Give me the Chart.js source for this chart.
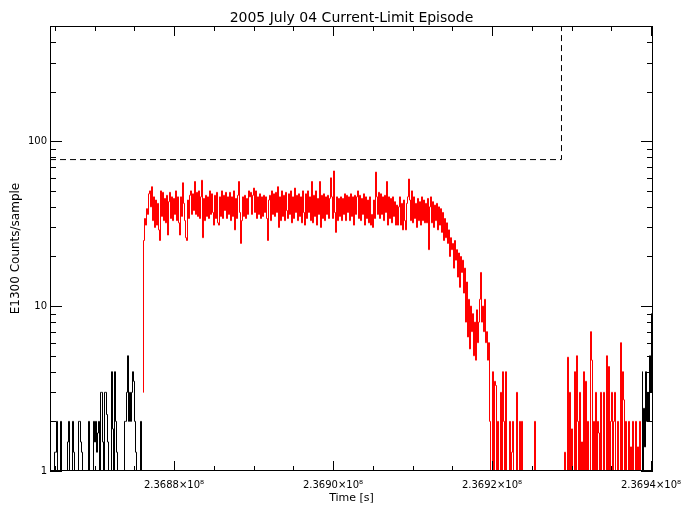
<!DOCTYPE html>
<html>
<head>
<meta charset="utf-8">
<script src="https://cdn.jsdelivr.net/npm/chart.js@4.4.1/dist/chart.umd.min.js"></script>
<style>
  body { margin: 0; background: #fff; }
  canvas { display: block; }
</style>
</head>
<body>
<canvas id="myChart" width="690" height="511"></canvas>
<script>
// sampling of the E1300 counts
const startTime = 2.368644e8;
const sampleStep = 125.79; // seconds per sample
const timeMin = 2.368644e8;
const timeMax = 2.3694025e8;

// black: before the episode (samples 0..92)
const countsBefore = [
    1, 1, 1, 1, 1, 1.3, 1.3, 2, 1, 1,
    1, 2, 1, 1, 1, 1, 1, 1, 1.5, 2,
    1, 1, 1, 2, 1.3, 1, 1, 1, 1, 2,
    2, 1.5, 1.3, 1, 1, 1, 1, 1, 1, 2,
    1, 1, 1, 1, 2, 1.5, 2, 1.3, 1.7, 2,
    1, 3, 3, 1.5, 1, 3, 3, 2.2, 1.5, 1,
    1, 1, 4, 1.8, 1, 4, 2, 1.3, 1, 1,
    1, 1, 1, 1, 1, 2, 2, 3, 5, 2,
    3, 2, 3, 4, 3.5, 2, 1.3, 1, 1, 1,
    1, 2, 1
];

// red: during the current-limit episode (samples 93..591)
const countsEpisode = [
    3, 25, 34, 31, 39, 36, 48,
    50, 40, 53, 33, 46, 30, 44, 31, 42, 29,
    25, 50, 35, 49, 33, 45, 32, 47, 27, 43,
    49, 34, 46, 33, 45, 36, 50, 33, 46, 32,
    27, 46, 35, 56, 42, 33, 26, 25, 44, 34,
    47, 50, 36, 48, 38, 57, 36, 49, 35, 50,
    34, 46, 58, 26, 45, 33, 47, 35, 46, 34,
    50, 36, 48, 37, 31, 47, 34, 49, 32, 31,
    46, 35, 50, 34, 47, 38, 49, 34, 46, 36,
    49, 33, 46, 35, 50, 29, 45, 34, 47, 57,
    37, 24, 33, 46, 35, 47, 34, 45, 36, 50,
    46, 49, 36, 47, 52, 37, 50, 34, 46, 36,
    48, 34, 46, 35, 47, 37, 46, 34, 25, 44,
    47, 33, 50, 36, 48, 35, 49, 37, 53, 30,
    46, 33, 50, 35, 47, 33, 49, 38, 34, 48,
    36, 50, 32, 46, 34, 52, 37, 47, 33, 48,
    35, 46, 32, 50, 37, 31, 48, 34, 50, 37,
    46, 33, 57, 32, 47, 35, 50, 31, 45, 36,
    57, 30, 47, 34, 48, 33, 46, 36, 47, 34,
    45, 60, 46, 34, 66, 37, 28, 46, 33, 45,
    35, 46, 33, 45, 36, 48, 33, 47, 37, 46,
    33, 48, 35, 46, 31, 47, 36, 46, 50, 34,
    47, 33, 45, 36, 48, 31, 46, 34, 44, 32,
    46, 31, 36, 30, 44, 34, 65, 46, 36, 49,
    34, 48, 36, 46, 33, 47, 37, 57, 31, 46,
    34, 45, 32, 46, 35, 43, 31, 41, 31, 40,
    46, 31, 42, 29, 44, 33, 29, 42, 46, 59,
    44, 33, 50, 32, 46, 34, 42, 30, 45, 33,
    43, 31, 46, 33, 44, 32, 42, 32, 45, 22,
    40, 46, 32, 43, 30, 41, 33, 42, 29, 40,
    31, 39, 28, 37, 25, 34, 26, 32, 24, 29,
    20, 26, 22, 24, 17, 25, 19, 22, 15, 21,
    13, 20, 16, 19, 12, 17, 8, 14, 6.5, 11,
    5.5, 10, 7, 9, 5, 8, 4.7, 9.5, 6, 8,
    11, 16, 8, 10, 7, 11, 6, 7, 4.7, 6,
    2, 1, 1, 4, 1, 3.5, 3.3, 1, 2, 1,
    1, 3, 1, 4, 2, 1, 4, 1, 1, 1,
    2, 1, 1.3, 2, 1, 1, 1, 3, 1, 1,
    2, 1, 2, 1, 1, 1, 1, 1, 1, 1,
    1, 1, 1, 1, 1, 2, 1, 1, 1, 1,
    1, 1, 1, 1, 1, 1, 1, 1, 1, 1,
    1, 1, 1, 1, 1, 1, 1, 1, 1, 1,
    1, 1, 1, 1, 1, 1.3, 1, 1, 4.9, 1,
    3, 1, 1.8, 1, 1, 4, 1, 5, 2, 1,
    3, 1, 1.5, 1, 4, 1, 3.5, 1, 2, 1,
    1, 7, 4.7, 1, 2, 1, 3, 1, 2, 1.7,
    1, 3, 1, 1, 3, 1, 1, 5, 1, 4.3,
    1, 2, 3, 1, 2, 3, 1, 1, 2, 1,
    1, 6, 1, 4, 2.7, 1, 2, 1, 1, 2,
    1, 1.4, 1, 2, 1, 1, 2, 1, 1.4, 1,
    2, 1
];

// black: after the episode (samples 592..606)
const countsAfter = [4, 1, 2.4, 1.4, 4, 2, 3, 2, 5, 3, 9, 5, 10, 5, 2.6];

// dashed current-limit level
const limitLevel = 77.4;
const limitEndTime = 2.3692874e8;
const limitTop = 1000;

// ticks
const xMajorTicks = [2.3688e8, 2.3690e8, 2.3692e8, 2.3694e8];
const xMinorTicks = [2.36865e8, 2.36870e8, 2.36875e8, 2.36885e8, 2.36890e8, 2.36895e8,
    2.36905e8, 2.36910e8, 2.36915e8, 2.36925e8, 2.36930e8, 2.36935e8];
const yMajorTicks = [1, 10, 100];
const yMinorTicks = [2, 3, 4, 5, 6, 7, 8, 9, 20, 30, 40, 50, 60, 70, 80, 90, 200, 300, 400];


function toPoints(counts, firstIndex) {
    return counts.map((c, i) => ({ x: startTime + (firstIndex + i) * sampleStep, y: c }));
}

const beforePts = toPoints(countsBefore, 0);
const episodePts = toPoints(countsEpisode, countsBefore.length);
const afterPts = toPoints(countsAfter, countsBefore.length + countsEpisode.length);
const limitPts = [
    { x: timeMin, y: limitLevel },
    { x: limitEndTime, y: limitLevel },
    { x: limitEndTime, y: limitTop }
];

// IDL style frame with inward ticks on all four sides
const idlAxes = {
    id: 'idlAxes',
    afterDatasetsDraw(chart) {
        const { ctx, chartArea: a, scales: { x, y } } = chart;
        ctx.save();
        ctx.strokeStyle = '#000';
        ctx.lineWidth = 1;
        ctx.beginPath();
        const xTick = (v, len) => {
            const px = Math.round(x.getPixelForValue(v)) + 0.5;
            ctx.moveTo(px, a.bottom);
            ctx.lineTo(px, a.bottom - len);
            ctx.moveTo(px, a.top);
            ctx.lineTo(px, a.top + len);
        };
        const yTick = (v, len) => {
            const py = Math.round(y.getPixelForValue(v)) + 0.5;
            ctx.moveTo(a.left, py);
            ctx.lineTo(a.left + len, py);
            ctx.moveTo(a.right, py);
            ctx.lineTo(a.right - len, py);
        };
        xMajorTicks.forEach(v => xTick(v, 10));
        xMinorTicks.forEach(v => xTick(v, 5));
        yMajorTicks.forEach(v => yTick(v, 12));
        yMinorTicks.forEach(v => yTick(v, 6));
        ctx.stroke();
        ctx.strokeRect(a.left + 0.5, a.top + 0.5, a.width - 1, a.height - 1);
        ctx.restore();
    }
};

const font = 'DejaVu Sans';
Chart.defaults.color = '#000';
Chart.defaults.font.family = font;

const lineStyle = { borderWidth: 1, pointRadius: 0, fill: false, stepped: 'middle', tension: 0 };

var ctx = document.getElementById('myChart').getContext('2d');
var chart = new Chart(ctx, {
    type: 'line',
    data: {
        datasets: [
            Object.assign({ label: 'before', data: beforePts, borderColor: '#000000' }, lineStyle),
            Object.assign({ label: 'episode', data: episodePts, borderColor: '#ff0000' }, lineStyle),
            Object.assign({ label: 'after', data: afterPts, borderColor: '#000000' }, lineStyle),
            {
                label: 'limit', data: limitPts, borderColor: '#000000', borderWidth: 1,
                borderDash: [6, 4], pointRadius: 0, fill: false, stepped: false
            }
        ]
    },
    options: {
        responsive: false,
        animation: false,
        events: [],
        layout: { padding: { left: 10, right: 37, top: 0, bottom: 0 } },
        plugins: {
            legend: { display: false },
            tooltip: { enabled: false }
        },
        scales: {
            x: {
                type: 'linear',
                position: 'bottom',
                min: timeMin,
                max: timeMax,
                grid: { display: false, drawTicks: false },
                border: { display: false },
                ticks: {
                    maxRotation: 0,
                    autoSkip: false,
                    padding: 8,
                    font: { size: 10 },
                    callback: v => (v / 1e8).toFixed(4) + '×10⁸'
                },
                afterBuildTicks: s => { s.ticks = xMajorTicks.map(v => ({ value: v })); },
                title: {
                    display: true,
                    text: 'Time [s]',
                    font: { size: 11 },
                    padding: { top: 0, bottom: 6 }
                },
                afterFit: s => { s.height = 40; s.paddingLeft = 0; s.paddingRight = 0; }
            },
            x2: {
                type: 'linear',
                position: 'top',
                min: timeMin,
                max: timeMax,
                grid: { display: false, drawTicks: false },
                border: { display: false },
                ticks: { display: false },
                title: {
                    display: true,
                    text: '2005 July 04 Current-Limit Episode',
                    font: { size: 14 },
                    padding: { top: 10, bottom: 0 }
                },
                afterFit: s => { s.height = 26; s.paddingLeft = 0; s.paddingRight = 0; }
            },
            y: {
                type: 'logarithmic',
                position: 'left',
                min: 1,
                max: 500,
                grid: { display: false, drawTicks: false },
                border: { display: false },
                ticks: {
                    padding: 3,
                    font: { size: 10 },
                    callback: v => String(v)
                },
                afterBuildTicks: s => { s.ticks = yMajorTicks.map(v => ({ value: v })); },
                title: {
                    display: true,
                    text: 'E1300 Counts/sample',
                    font: { size: 12, lineHeight: 1 },
                    padding: { top: 0, bottom: 0 }
                },
                afterFit: s => { s.width = 40; s.paddingTop = 0; s.paddingBottom = 0; }
            }
        }
    },
    plugins: [idlAxes]
});
</script>
</body>
</html>
